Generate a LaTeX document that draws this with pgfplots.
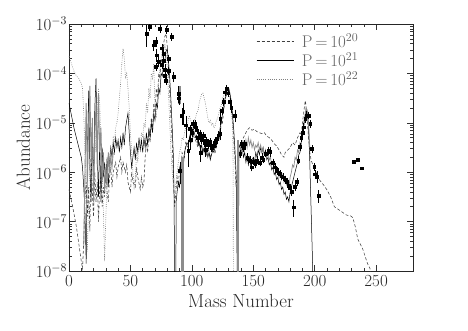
\documentclass[border=0pt]{standalone}
\usepackage{fix-cm}
\usepackage{fontspec}
\usepackage{pgfplots}
\pgfplotsset{compat=1.18}

\begin{document}
\begin{tikzpicture}
\useasboundingbox (-69bp,-60bp) rectangle (399bp,271bp);
\begin{axis}[
  scale only axis, width=344bp, height=247bp,
  xmin=0, xmax=280, ymin=1e-8, ymax=1e-3, ymode=log,
  xtick={0,50,100,150,200,250}, minor x tick num=4,
  ytick={1e-8,1e-7,1e-6,1e-5,1e-4,1e-3},
  tick align=inside, major tick length=6bp, minor tick length=3.5bp,
  axis line style={black!85, line width=0.7pt},
  every tick/.style={black!80, line width=0.5pt},
  tick label style={font=\fontsize{17}{19}\selectfont, black!85},
  yticklabel style={xshift=1.5bp},
  xticklabel style={yshift=-1bp},
  xlabel={Mass Number}, ylabel={Abundance},
  label style={font=\fontsize{19}{22}\selectfont, black!85},
  xlabel style={yshift=-1bp}, ylabel style={yshift=-1bp},
  legend style={draw=none, fill=none, at={(0.535,0.972)}, anchor=north west,
    font=\fontsize{17}{19}\selectfont, text=black!60, row sep=1.5bp,
    nodes={inner sep=1bp},
    /tikz/every odd column/.append style={column sep=7bp}},
  legend cell align=left,
  legend image code/.code={\draw[#1] (0bp,0bp) -- (37bp,0bp);},
]
% P = 1e20, dashed
\addplot[black!75, line width=0.55pt, dash pattern=on 3bp off 2bp] coordinates {
(0,4.47e-7)(3,2.0e-7)(6,7.94e-8)(8,3.55e-8)(10,1.58e-8)(11,1.12e-8)(12,3.98e-8)(13,3.16e-7)
(14,6.31e-7)(15,1.26e-7)(16,5.01e-7)(17,6.31e-8)(18,2.51e-6)(19,3.98e-7)(20,1.26e-7)(21,1e-6)
(22,2.51e-7)(23,6.31e-7)(24,1e-7)(25,5.01e-7)(26,7.94e-7)(27,2.0e-7)(28,5.01e-7)(29,3.16e-7)
(30,1e-6)(31,3.98e-7)(32,2.51e-7)(33,7.94e-7)(34,1.26e-6)(35,5.01e-7)(36,1e-6)(38,1.58e-6)
(39,7.94e-7)(40,1.26e-6)(42,2.0e-6)(43,1e-6)(44,1.58e-6)(46,1e-6)(47,1.41e-6)(48,6.31e-7)
(50,3.98e-7)(51,1e-6)(52,6.31e-7)(54,5.01e-7)(55,1.26e-6)(56,7.94e-7)(58,4.47e-7)(59,7.94e-7)
(60,5.01e-7)(61,6.31e-7)(62,2.0e-6)(63,3.98e-6)(64,2.51e-6)(65,6.31e-6)(66,3.98e-6)(67,1.26e-5)
(68,7.94e-6)(69,2.51e-5)(70,1.58e-5)(71,5.01e-5)(72,3.16e-5)(73,1e-4)(74,7.94e-5)(75,2.0e-4)
(76,1.58e-4)(77,3.98e-4)(78,5.62e-4)(79,6.31e-4)(80,3.55e-4)(81,1.26e-4)(82,3.98e-5)(83,1.26e-5)
(84,3.98e-6)(85,7.94e-7)(86,2.0e-7)(87,3.98e-7)(88,7.94e-7)(89,5.01e-7)(90,1.26e-6)(91,1e-6)
(92,2.51e-6)(94,2.0e-6)(95,3.98e-6)(97,3.16e-6)(98,5.01e-6)(100,3.98e-6)(101,5.62e-6)(103,4.47e-6)
(105,3.16e-6)(106,3.98e-6)(108,2.51e-6)(110,3.16e-6)(112,2.24e-6)(113,3.16e-6)(115,2.0e-6)(117,2.82e-6)
(119,2.51e-6)(120,3.98e-6)(122,6.31e-6)(123,5.01e-6)(124,1.12e-5)(125,1e-5)(126,2.0e-5)(127,2.51e-5)
(128,3.98e-5)(129,4.47e-5)(130,5.01e-5)(131,3.55e-5)(132,2.51e-5)(133,1.26e-5)(134,5.01e-6)(135,2.0e-6)
(136,5.01e-7)(137,1e-6)(138,1.58e-6)(139,2.51e-6)(140,3.16e-6)(141,4.47e-6)(143,5.62e-6)(145,7.08e-6)
(147,7.94e-6)(149,7.08e-6)(151,7.41e-6)(153,6.61e-6)(155,6.31e-6)(157,6.03e-6)(159,6.31e-6)(161,5.37e-6)
(163,5.01e-6)(165,4.47e-6)(167,3.80e-6)(169,3.39e-6)(171,2.82e-6)(173,2.24e-6)(175,2.0e-6)(176,2.51e-6)
(178,2.82e-6)(180,3.16e-6)(182,3.98e-6)(184,3.55e-6)(186,5.01e-6)(188,6.31e-6)(189,5.62e-6)(190,1e-5)
(191,1.58e-5)(192,2.51e-5)(192.5,2.82e-5)(193,2.0e-5)(194,1e-5)(195,5.01e-6)(196,2.51e-6)(197,1.78e-6)
(199,1.29e-6)(202,8.91e-7)(204,6.92e-7)(207,5.62e-7)(210,4.37e-7)(213,3.16e-7)(216,2.0e-7)(219,1.78e-7)
(222,1.58e-7)(226,1.35e-7)(229,1.32e-7)(231,1.20e-7)(233,7.94e-8)(235,4.47e-8)(237,3.55e-8)(239,2.82e-8)
(241,2.0e-8)(243,1.41e-8)(245,1.12e-8)(247,6.31e-9)
};
\addlegendentry{P$\,=\,$10$^{20}$}
% P = 1e21, solid
\addplot[black, line width=0.5pt] coordinates {
(0,2.51e-5)(2,1.41e-5)(4,7.94e-6)(6,5.01e-6)(8,3.16e-6)(10,2.0e-6)(11,1.26e-6)(12,5.01e-7)
(13,1.58e-7)(14,1.41e-8)(15,2.51e-6)(16,4.47e-5)(17,1.26e-6)(18,2.51e-7)(19,7.94e-6)(20,5.01e-7)
(21,2.0e-5)(22,7.94e-5)(23,2.51e-6)(24,3.16e-7)(25,5.01e-6)(26,2.51e-7)(27,3.16e-6)(28,7.94e-7)
(29,1.58e-6)(30,6.31e-7)(31,2.0e-6)(32,5.01e-7)(33,1.58e-6)(34,3.16e-6)(35,2.0e-6)(36,3.98e-6)
(37,2.51e-6)(38,5.01e-6)(39,3.16e-6)(40,4.47e-6)(41,2.51e-6)(42,5.01e-6)(43,3.16e-6)(44,6.31e-6)
(45,3.55e-6)(46,7.94e-6)(47,1.12e-5)(48,1.58e-5)(49,6.31e-6)(50,2.51e-6)(51,1.26e-6)(52,2.0e-6)
(53,3.16e-6)(54,1.78e-6)(55,3.98e-6)(56,2.51e-6)(57,5.01e-6)(58,2.82e-6)(59,4.47e-6)(60,2.51e-6)
(61,5.01e-6)(62,3.16e-6)(63,6.31e-6)(64,3.55e-6)(65,7.94e-6)(66,5.01e-6)(67,1e-5)(68,6.31e-6)
(69,1.58e-5)(70,1.12e-5)(71,2.51e-5)(72,2.0e-5)(73,5.01e-5)(74,3.98e-5)(75,1e-4)(76,8.91e-5)
(77,1.58e-4)(78,1.78e-4)(79,2.82e-4)(80,3.16e-4)(81,1.78e-4)(82,7.94e-5)(83,2.82e-5)(84,7.94e-6)
(85,2.0e-6)(85.5,3.16e-7)(86,6.31e-9)(87,6.31e-9)(87.2,2.51e-7)(88,3.98e-7)(89,6.31e-7)(90,5.01e-7)
(91,1e-6)(92,1.58e-6)(93,1.26e-6)(94,2.51e-6)(95,3.16e-6)(96,3.98e-6)(97,3.55e-6)(98,5.01e-6)
(99,6.31e-6)(100,5.62e-6)(101,7.94e-6)(102,6.31e-6)(103,5.01e-6)(104,5.62e-6)(105,3.55e-6)(106,3.98e-6)
(107,2.82e-6)(108,3.55e-6)(109,2.51e-6)(110,3.16e-6)(111,2.24e-6)(112,2.82e-6)(113,2.0e-6)(114,2.51e-6)
(115,1.78e-6)(116,2.24e-6)(117,2.82e-6)(118,2.51e-6)(119,3.55e-6)(120,3.16e-6)(121,5.01e-6)(122,4.47e-6)
(123,7.94e-6)(124,1e-5)(125,1.58e-5)(126,2.0e-5)(127,3.16e-5)(128,3.55e-5)(129,5.01e-5)(130,5.01e-5)
(131,3.98e-5)(132,2.82e-5)(133,1.58e-5)(134,7.94e-6)(135,3.16e-6)(136,1e-6)(137,6.31e-9)(138,6.31e-9)
(138.3,3.16e-6)(139,3.55e-6)(140,2.51e-6)(141,3.16e-6)(142,2.0e-6)(143,2.51e-6)(144,1.58e-6)(145,2.24e-6)
(146,1.41e-6)(147,2.0e-6)(148,1.26e-6)(149,1.78e-6)(150,2.0e-6)(151,1.58e-6)(152,2.51e-6)(153,2.0e-6)
(154,2.82e-6)(155,2.24e-6)(156,3.16e-6)(157,2.51e-6)(158,3.16e-6)(159,2.24e-6)(160,2.51e-6)(161,1.78e-6)
(162,2.0e-6)(163,1.41e-6)(164,1.58e-6)(165,1.12e-6)(166,1.26e-6)(167,8.91e-7)(168,1e-6)(169,7.08e-7)
(170,7.94e-7)(171,5.62e-7)(172,6.31e-7)(173,4.47e-7)(174,5.01e-7)(175,3.55e-7)(176,3.98e-7)(177,2.82e-7)
(178,3.16e-7)(179,2.51e-7)(180,3.98e-7)(181,5.01e-7)(182,6.31e-7)(183,7.94e-7)(184,1e-6)(185,1.26e-6)
(186,1.58e-6)(187,2.24e-6)(188,2.51e-6)(189,3.98e-6)(190,5.01e-6)(191,7.94e-6)(192,1.26e-5)(193,1.78e-5)
(194,1.58e-5)(195,7.94e-6)(196,1.58e-6)(197,2.0e-7)(198,2.51e-8)(198.5,6.31e-9)
};
\addlegendentry{P$\,=\,$10$^{21}$}
% P = 1e22, dotted
\addplot[black!50, line width=0.6pt, dash pattern=on 0.8bp off 1.4bp] coordinates {
(0,2.24e-4)(2,1.58e-4)(4,1.12e-4)(6,8.91e-5)(8,7.94e-5)(10,6.31e-5)(11,5.01e-5)(12,1.58e-5)
(13,2.51e-6)(14,1.58e-7)(15,2.51e-8)(16,3.16e-7)(17,1.58e-6)(18,5.01e-7)(19,3.16e-6)(20,1.26e-6)
(21,6.31e-6)(22,2.51e-6)(23,1.58e-5)(24,5.01e-5)(25,2.51e-5)(26,3.98e-6)(27,1e-6)(28,1.58e-7)
(29,1.58e-8)(30,1.26e-7)(31,6.31e-7)(32,1.58e-6)(33,2.0e-6)(34,3.16e-6)(35,2.51e-6)(36,5.01e-6)
(37,3.98e-6)(38,7.94e-6)(39,1e-5)(40,1.58e-5)(41,3.16e-5)(42,6.31e-5)(43,1.58e-4)(44,3.16e-4)
(45,2.0e-4)(46,7.94e-5)(47,1e-4)(48,5.01e-5)(49,2.0e-5)(50,6.31e-6)(51,2.51e-6)(52,1e-6)
(53,5.01e-7)(54,7.94e-7)(55,2.51e-6)(56,1.58e-6)(57,3.98e-6)(58,3.16e-6)(59,6.31e-6)(60,5.01e-6)
(61,1e-5)(62,7.94e-6)(63,2.51e-5)(64,1.58e-5)(65,5.01e-5)(66,3.16e-5)(67,1e-4)(68,7.94e-5)
(69,1.58e-4)(70,2.0e-5)(71,1.26e-5)(72,3.16e-5)(73,6.31e-5)(74,1.26e-4)(75,2.0e-4)(76,3.16e-4)
(77,2.82e-4)(78,3.98e-4)(79,2.51e-4)(80,1.26e-4)(81,3.98e-5)(82,1e-5)(83,2.51e-6)(84,1e-6)
(85,5.01e-7)(86,3.16e-7)(87,6.31e-7)(88,1e-6)(89,1.58e-6)(90,2.51e-6)(91,3.16e-6)(92,5.01e-6)
(93,4.47e-6)(94,6.31e-6)(95,7.94e-6)(96,7.08e-6)(97,1.12e-5)(98,1.41e-5)(99,1.12e-5)(100,1e-5)
(101,7.94e-6)(102,1.12e-5)(103,1.26e-5)(104,1.58e-5)(105,1.78e-5)(106,2.51e-5)(107,3.16e-5)(108,3.80e-5)
(109,3.98e-5)(110,3.16e-5)(111,2.51e-5)(112,1.78e-5)(113,1.26e-5)(114,1e-5)(115,1.12e-5)(116,8.91e-6)
(117,1e-5)(118,7.94e-6)(119,8.91e-6)(120,1.12e-5)(121,1.26e-5)(122,1.58e-5)(123,2.0e-5)(124,2.24e-5)
(125,3.16e-5)(126,3.55e-5)(127,4.47e-5)(128,5.01e-5)(129,4.79e-5)(130,3.98e-5)(131,3.16e-5)(132,2.0e-5)
(133,1e-5)(133.5,3.16e-6)(133.8,6.31e-9)
};
\addlegendentry{P$\,=\,$10$^{22}$}
% further model curves, grey
\addplot[black!45, line width=0.9pt, forget plot] coordinates {
(12,3.16e-8)(13,1e-6)(14,2.51e-5)(15,6.31e-7)(16,1e-5)(17,5.62e-5)(18,1.58e-6)(19,1.26e-5)
(20,2.51e-7)(21,5.01e-6)(22,2.51e-5)(23,1.26e-6)(24,3.98e-5)(25,2.51e-6)(26,7.94e-6)(27,6.31e-7)
(28,2.51e-6)(29,3.98e-7)(30,1.26e-6)(31,5.01e-7)(32,2.51e-6)(33,1e-6)(34,2.0e-6)(35,1.26e-6)(36,2.51e-6)
};
\addplot[black!45, line width=0.7pt, forget plot] coordinates {
(138.5,2.0e-6)(140,3.16e-6)(141,2.51e-6)(142,3.98e-6)(143,2.82e-6)(144,4.47e-6)(145,3.16e-6)(146,5.01e-6)
(147,3.55e-6)(148,4.47e-6)(149,3.16e-6)(150,3.98e-6)(151,2.82e-6)(152,3.55e-6)(153,3.16e-6)(154,3.98e-6)
(155,2.82e-6)(156,3.55e-6)(157,2.51e-6)(158,3.16e-6)(159,2.24e-6)(160,2.82e-6)(161,2.0e-6)(162,2.51e-6)
(163,1.78e-6)(164,2.0e-6)(165,1.41e-6)(166,1.58e-6)(167,1.26e-6)(168,1.41e-6)(169,1e-6)(170,1.12e-6)
(171,7.94e-7)(172,1e-6)(173,7.08e-7)(174,8.91e-7)(175,6.31e-7)(176,7.94e-7)(177,5.62e-7)(178,7.08e-7)
(179,5.01e-7)(180,7.94e-7)(181,1e-6)(182,1.41e-6)(183,1.26e-6)(184,2.0e-6)(185,1.78e-6)(186,2.82e-6)
(187,2.51e-6)(188,3.98e-6)(189,3.55e-6)(190,6.31e-6)(191,1e-5)(192,1.41e-5)(193,2.0e-5)(194,1.78e-5)
(195,1e-5)(196,3.16e-6)
};
\addplot[black!45, line width=3bp, forget plot] coordinates {(90.2,2.4e-5) (90.2,5.6e-5)};
\addplot[black!45, line width=2.6bp, forget plot] coordinates {(92.6,5e-9) (92.6,2.0e-6)};
\addplot[black!45, line width=2.4bp, forget plot] coordinates {(137.4,5e-9) (137.4,4.4e-6)};
% measured abundances
\addplot[only marks, mark=square*, mark size=1.4bp, black, forget plot,
  error bars/.cd, y dir=both, y explicit relative,
  error mark options={black, mark size=1.8bp, line width=0.5pt},
  error bar style={black, line width=0.5pt}] coordinates {
(63,6.31e-4)+-(0,0.4) (65.5,8.91e-4)+-(0,0.1) (68.7,3.72e-4)+-(0,0.15) (70.8,4.37e-4)+-(0,0.15)
(74,8.13e-4)+-(0,0.1) (79.5,7.59e-4)+-(0,0.1) (83.6,5.50e-4)+-(0,0.1) (71.4,2.34e-4)+-(0,0.2)
(75.5,3.24e-4)+-(0,0.1) (76.8,2.51e-4)+-(0,0.1) (72.7,1.70e-4)+-(0,0.15) (70.8,1.35e-4)+-(0,0.1)
(75.5,1.48e-4)+-(0,0.1) (78.2,1.17e-4)+-(0,0.2) (80.9,2.0e-4)+-(0,0.1) (78.2,9.12e-5)+-(0,0.1)
(85,8.51e-5)+-(0,0.15) (89,3.89e-5)+-(0,0.3) (89.5,3.16e-5)+-(0,0.2) (93,1.66e-5)+-(0,0.4)
(92,1.41e-5)+-(0,0.3) (95.3,8.91e-6)+-(0,0.4) (77,1.78e-4)+-(0,0.1) (81,1.12e-4)+-(0,0.1)
(79,7.08e-5)+-(0,0.1) (90.4,1.07e-6)+-(0,0.4) (97,2.75e-6)+-(0,0.5) (98.5,7.59e-6)+-(0,0.1)
(100,6.31e-6)+-(0,0.1) (101,9.55e-6)+-(0,0.1) (102.6,9.55e-6)+-(0,0.1) (103,8.13e-6)+-(0,0.1)
(104,7.08e-6)+-(0,0.1) (105,5.01e-6)+-(0,0.15) (106.7,6.03e-6)+-(0,0.1) (108,4.47e-6)+-(0,0.1)
(109.4,5.50e-6)+-(0,0.1) (110,3.98e-6)+-(0,0.1) (112,4.37e-6)+-(0,0.1) (113,3.55e-6)+-(0,0.1)
(114.8,4.07e-6)+-(0,0.1) (116,3.16e-6)+-(0,0.1) (117.5,3.47e-6)+-(0,0.1) (118.5,3.98e-6)+-(0,0.1)
(120.3,4.79e-6)+-(0,0.15) (121.5,5.62e-6)+-(0,0.1) (123,6.03e-6)+-(0,0.2) (123,1.20e-5)+-(0,0.2)
(124.6,1.74e-5)+-(0,0.1) (125.7,2.63e-5)+-(0,0.1) (127,4.17e-5)+-(0,0.1) (128.4,4.90e-5)+-(0,0.1)
(129.5,3.98e-5)+-(0,0.1) (131,2.63e-5)+-(0,0.1) (132,2.0e-5)+-(0,0.15) (135,1.41e-5)+-(0,0.2)
(107,2.51e-6)+-(0,0.3) (111,2.82e-6)+-(0,0.2) (99,4.47e-6)+-(0,0.3)
(139.3,2.34e-6)+-(0,0.1) (140.6,3.72e-6)+-(0,0.1) (142,3.16e-6)+-(0,0.1) (143,3.72e-6)+-(0,0.1)
(145,2.0e-6)+-(0,0.1) (147.4,1.74e-6)+-(0,0.1) (148.7,1.26e-6)+-(0,0.1) (150,1.66e-6)+-(0,0.1)
(151.5,1.45e-6)+-(0,0.1) (153,1.74e-6)+-(0,0.1) (155.5,1.58e-6)+-(0,0.1) (157,2.0e-6)+-(0,0.1)
(158,1.82e-6)+-(0,0.1) (160,2.40e-6)+-(0,0.1) (162.3,2.75e-6)+-(0,0.1) (163.7,2.57e-6)+-(0,0.15)
(166,1.58e-6)+-(0,0.1) (167.5,1.26e-6)+-(0,0.1) (169.1,1.07e-6)+-(0,0.1) (170.5,1e-6)+-(0,0.1)
(171.8,9.12e-7)+-(0,0.1) (173,8.32e-7)+-(0,0.1) (174.5,7.94e-7)+-(0,0.1) (176,7.08e-7)+-(0,0.1)
(177.3,6.31e-7)+-(0,0.1) (178.5,5.25e-7)+-(0,0.1) (180,4.90e-7)+-(0,0.1) (181.3,3.98e-7)+-(0,0.1)
(182.7,1.95e-7)+-(0,0.3) (184,5.01e-7)+-(0,0.1) (185.4,6.31e-7)+-(0,0.1) (186.6,1.74e-6)+-(0,0.1)
(188,3.24e-6)+-(0,0.1) (189,5.01e-6)+-(0,0.1) (190,6.31e-6)+-(0,0.1) (190.8,8.13e-6)+-(0,0.1)
(192.2,1.20e-5)+-(0,0.1) (193.5,1.41e-5)+-(0,0.1) (195,1.41e-5)+-(0,0.1) (196.3,9.55e-6)+-(0,0.1)
(197.6,2.95e-6)+-(0,0.1) (199.5,1.29e-6)+-(0,0.1) (200.3,9.12e-7)+-(0,0.1) (201.7,8.13e-7)+-(0,0.2)
(203,3.31e-7)+-(0,0.2)
};
\addplot[only marks, mark=square*, mark size=1.4bp, black, forget plot] coordinates {
(231.5,1.62e-6) (234.8,1.82e-6) (238.3,1.20e-6)
};
\end{axis}
\end{tikzpicture}
\end{document}
